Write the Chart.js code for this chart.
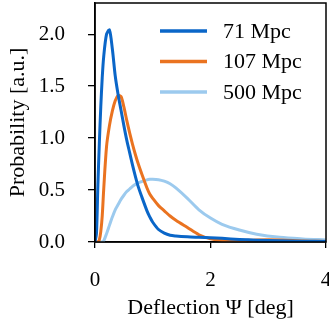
<!DOCTYPE html>
<html>
<head>
<meta charset="utf-8">
<script src="https://cdn.jsdelivr.net/npm/chart.js@4/dist/chart.umd.min.js"></script>
<style>
  body { margin: 0; background: #fff; }
  canvas { display: block; }
</style>
</head>
<body>
<canvas id="myChart" width="329" height="329"></canvas>
<script>
// deflection angle samples (deg)
const deflection = [0, 0.025, 0.05, 0.075, 0.1, 0.125, 0.15, 0.2, 0.25, 0.3, 0.35, 0.4, 0.45, 0.5, 0.55, 0.6, 0.65, 0.7, 0.75, 0.8, 0.9, 0.95, 1.0, 1.1, 1.2, 1.3, 1.4, 1.6, 1.8, 2.0, 2.2, 2.5, 2.8, 3.2, 3.6, 4.0];

const mpc71  = [0, 0.08, 0.55, 0.95, 1.3, 1.58, 1.78, 2.0, 2.04, 1.86, 1.6, 1.42, 1.27, 1.12, 0.98, 0.86, 0.74, 0.63, 0.53, 0.45, 0.30, 0.24, 0.19, 0.12, 0.085, 0.065, 0.058, 0.05, 0.045, 0.04, 0.035, 0.025, 0.018, 0.012, 0.008, 0.005];
const mpc107 = [0, 0, 0, 0.02, 0.1, 0.25, 0.5, 0.92, 1.12, 1.26, 1.36, 1.41, 1.40, 1.3, 1.17, 1.05, 0.94, 0.84, 0.75, 0.67, 0.52, 0.46, 0.42, 0.35, 0.30, 0.25, 0.21, 0.14, 0.07, 0.03, 0.015, 0.012, 0.02, 0.02, 0.01, 0.005];
const mpc500 = [0, 0, 0, 0, 0, 0, 0.01, 0.08, 0.16, 0.24, 0.31, 0.36, 0.41, 0.45, 0.485, 0.51, 0.535, 0.555, 0.57, 0.58, 0.598, 0.603, 0.605, 0.6, 0.585, 0.56, 0.52, 0.42, 0.31, 0.23, 0.17, 0.115, 0.075, 0.045, 0.03, 0.02];

const seriesLabels = ["71 Mpc", "107 Mpc", "500 Mpc"];
const seriesColors = ["#0a66c8", "#ea7320", "#9ccaee"];
const xTicks = [0, 2, 4];
const yTicks = [0, 0.5, 1.0, 1.5, 2.0];

const serif = "'Liberation Serif', 'Times New Roman', serif";

function points(ys){
    return deflection.map((x, i) => ({x: x, y: ys[i]}));
}

const allSeries = [mpc71, mpc107, mpc500];

const datasets = allSeries.map((ys, i) => ({
    label: seriesLabels[i],
    data: points(ys),
    borderColor: seriesColors[i],
    borderWidth: 3,
    pointRadius: 0,
    tension: 0.3,
    fill: false
}));

// box around the axes and legend in the upper right corner
const framePlugin = {
    id: 'frame',
    afterDraw(chart){
        const ctx = chart.ctx;
        const a = chart.chartArea;
        ctx.save();
        ctx.strokeStyle = '#000';
        ctx.lineWidth = 1.5;
        ctx.strokeRect(a.left, a.top, a.right - a.left, a.bottom - a.top);

        ctx.font = "22px " + serif;
        ctx.textBaseline = 'middle';
        ctx.fillStyle = '#000';
        chart.data.datasets.forEach((ds, i) => {
            const y = a.top + 28 + i * 30.5;
            ctx.strokeStyle = ds.borderColor;
            ctx.lineWidth = 3.5;
            ctx.beginPath();
            ctx.moveTo(a.left + 65, y);
            ctx.lineTo(a.left + 112, y);
            ctx.stroke();
            ctx.fillText(ds.label, a.left + 128, y + 1);
        });
        ctx.restore();
    }
};

const config = {
    type: 'line',
    data: { datasets: datasets },
    options: {
        responsive: false,
        devicePixelRatio: 1,
        animation: false,
        layout: { padding: { left: 0, top: 3, right: 3, bottom: 0 } },
        plugins: {
            legend: { display: false },
            tooltip: { enabled: false }
        },
        scales: {
            x: {
                type: 'linear',
                min: 0,
                max: 4,
                afterBuildTicks: s => { s.ticks = xTicks.map(v => ({value: v})); },
                afterFit: s => { s.height = 87; s.paddingLeft = 0; s.paddingRight = 0; },
                ticks: {
                    color: '#000',
                    padding: 20,
                    maxRotation: 0,
                    font: { family: serif, size: 21 },
                    callback: v => String(v)
                },
                grid: { drawOnChartArea: false, tickLength: 6, color: '#000', lineWidth: 1.3 },
                border: { color: '#000', width: 1.5 },
                title: {
                    display: true,
                    text: 'Deflection Ψ [deg]',
                    color: '#000',
                    font: { family: serif, size: 22 },
                    padding: { top: 0, bottom: 8 }
                }
            },
            y: {
                type: 'linear',
                min: 0,
                max: 2.3,
                afterBuildTicks: s => { s.ticks = yTicks.map(v => ({value: v})); },
                afterFit: s => { s.width = 95; s.paddingTop = 0; s.paddingBottom = 0; },
                ticks: {
                    color: '#000',
                    padding: 23,
                    font: { family: serif, size: 21 },
                    callback: v => Number(v).toFixed(1)
                },
                grid: { drawOnChartArea: false, tickLength: 7, color: '#000', lineWidth: 1.3 },
                border: { color: '#000', width: 1.5 },
                title: {
                    display: true,
                    text: 'Probability [a.u.]',
                    color: '#000',
                    font: { family: serif, size: 22 },
                    padding: { top: 5, bottom: 0 }
                }
            }
        }
    },
    plugins: [framePlugin]
};

const ctx = document.getElementById('myChart').getContext('2d');
let myChart = new Chart(ctx, config);
</script>
</body>
</html>
